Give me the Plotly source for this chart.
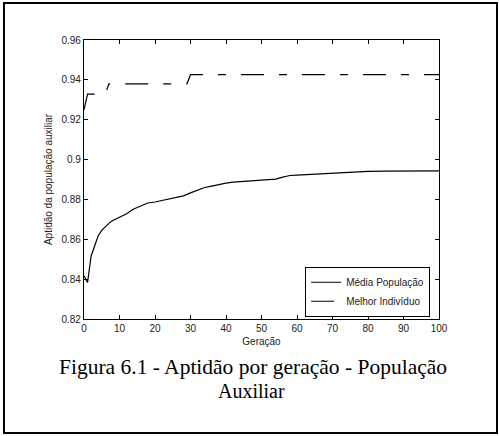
import plotly.graph_objects as go

# Data
gen_media = [0, 1, 2, 3, 4, 5, 6, 7, 8, 10, 12, 14, 16, 18, 20, 22, 24, 26, 28, 30,
             32, 34, 36, 38, 40, 42, 44, 46, 48, 50, 52, 54, 56, 58, 60, 62, 64, 66,
             70, 72, 75, 80, 85, 90, 100]
media_populacao = [0.8417, 0.8383, 0.8515, 0.8565, 0.8618, 0.8645, 0.8665, 0.8680, 0.8693,
                   0.8712, 0.8728, 0.8752, 0.8765, 0.8782, 0.8787, 0.8795, 0.8803, 0.8808,
                   0.8818, 0.8833, 0.8847, 0.8860, 0.8867, 0.8875, 0.8882, 0.8887, 0.8890,
                   0.8893, 0.8894, 0.8897, 0.8899, 0.8902, 0.8912, 0.8920, 0.8922, 0.8924,
                   0.8926, 0.8929, 0.8932, 0.8935, 0.8937, 0.8941, 0.8942, 0.8943, 0.8943]

gen_melhor = [0, 1, 6, 7, 29, 30, 100]
melhor_individuo = [0.925, 0.9328, 0.9328, 0.9380, 0.9380, 0.9426, 0.9426]

x_ticks = [0, 10, 20, 30, 40, 50, 60, 70, 80, 90, 100]
y_ticks = [0.82, 0.84, 0.86, 0.88, 0.9, 0.92, 0.94, 0.96]
y_tick_labels = ["0.82", "0.84", "0.86", "0.88", "0.9", "0.92", "0.94", "0.96"]

caption_line1 = "Figura 6.1 - Aptidão por geração - População"
caption_line2 = "Auxiliar"

fig = go.Figure()
fig.add_trace(go.Scatter(x=gen_media, y=media_populacao, mode="lines",
                         name="Média População",
                         line=dict(color="black", width=1.2)))
fig.add_trace(go.Scatter(x=gen_melhor, y=melhor_individuo, mode="lines",
                         name="Melhor Indivíduo",
                         line=dict(color="black", width=1.2, dash="23px,15px,8px,15px")))

axis_common = dict(showgrid=False, zeroline=False, showline=True, linecolor="black",
                   linewidth=1.2, mirror="ticks", ticks="inside", ticklen=4,
                   tickcolor="black", tickwidth=1,
                   tickfont=dict(family="Liberation Sans, Arial", size=10, color="#222"))

fig.update_xaxes(range=[0, 100], tickvals=x_ticks,
                 title=dict(text="Geração", font=dict(family="Liberation Sans, Arial", size=10, color="#222"),
                            standoff=4),
                 **axis_common)
fig.update_yaxes(range=[0.82, 0.96], tickvals=y_ticks, ticktext=y_tick_labels,
                 title=dict(text="Aptidão da população auxiliar",
                            font=dict(family="Liberation Sans, Arial", size=10, color="#222"),
                            standoff=6),
                 **axis_common)

serif = "Liberation Serif, Times New Roman"
fig.update_layout(
    width=499, height=436,
    margin=dict(l=84, r=60, t=40, b=117),
    paper_bgcolor="white", plot_bgcolor="white",
    showlegend=True,
    legend=dict(x=0.975, y=0.008, xanchor="right", yanchor="bottom",
                bgcolor="white", bordercolor="black", borderwidth=1,
                font=dict(family="Liberation Sans, Arial", size=10, color="#222"),
                tracegroupgap=0, itemwidth=30),
    shapes=[dict(type="rect", xref="paper", yref="paper",
                 x0=-0.2254, x1=1.1634, y0=-0.4086, y1=1.1326,
                 line=dict(color="black", width=2))],
    annotations=[
        dict(text=caption_line1, xref="paper", yref="paper", x=0.477, y=-0.172,
             xanchor="center", yanchor="middle", showarrow=False,
             font=dict(family=serif, size=21.5, color="black")),
        dict(text=caption_line2, xref="paper", yref="paper", x=0.472, y=-0.258,
             xanchor="center", yanchor="middle", showarrow=False,
             font=dict(family=serif, size=20, color="black")),
    ],
)

fig.write_html("out.html")
